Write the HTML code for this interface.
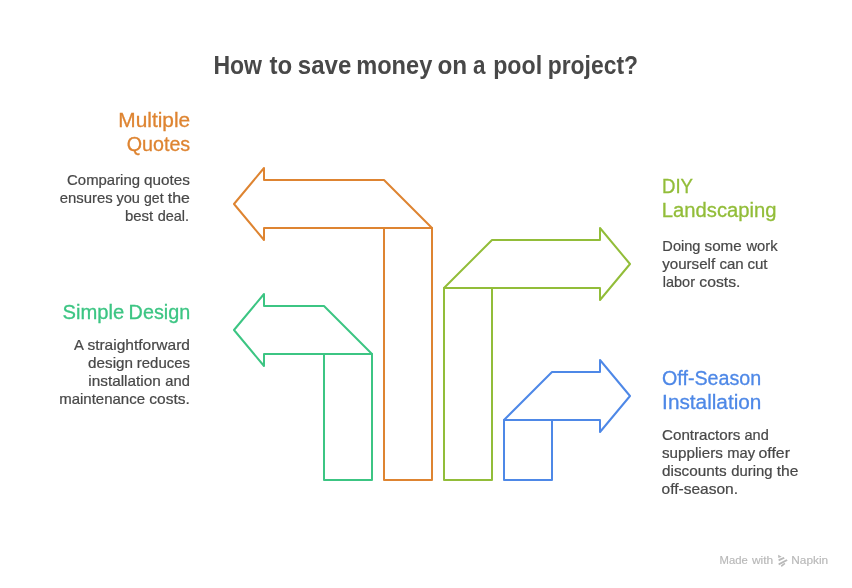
<!DOCTYPE html>
<html lang="en"><head><meta charset="utf-8"><title>How to save money on a pool project?</title>
<style>
html,body{margin:0;padding:0;background:#fff;}
body{width:852px;height:588px;overflow:hidden;}
svg{display:block;will-change:transform;}
text{font-family:"Liberation Sans",Arial,Helvetica,sans-serif;}
.s{fill:none;stroke-width:2;stroke-linejoin:round;stroke-linecap:round;}
</style></head><body>
<svg width="852" height="588" viewBox="0 0 852 588">
<rect width="852" height="588" fill="#ffffff"/>

<g class="s" stroke="#de8431">
<path d="M264 180 L384 180 L432 228 L264 228 L264 240 L234 204 L264 168 Z"/>
<path d="M384 228 L384 480 L432 480 L432 228"/>
</g>
<g class="s" stroke="#3cc583">
<path d="M264 306 L324 306 L372 354 L264 354 L264 366 L234 330 L264 294 Z"/>
<path d="M324 354 L324 480 L372 480 L372 354"/>
</g>
<g class="s" stroke="#92bd39">
<path d="M444 288 L492 240 L600 240 L600 228 L630 264 L600 300 L600 288 Z"/>
<path d="M444 288 L444 480 L492 480 L492 288"/>
</g>
<g class="s" stroke="#4e88e7">
<path d="M504 420 L552 372 L600 372 L600 360 L630 396 L600 432 L600 420 Z"/>
<path d="M504 420 L504 480 L552 480 L552 420"/>
</g>
<text y="74.30" font-size="25.0" font-weight="bold" fill="#484848"><tspan x="213.43" textLength="48.62" lengthAdjust="spacingAndGlyphs">How</tspan> <tspan x="269.62" textLength="22.68" lengthAdjust="spacingAndGlyphs">to</tspan> <tspan x="297.80" textLength="53.45" lengthAdjust="spacingAndGlyphs">save</tspan> <tspan x="356.16" textLength="76.14" lengthAdjust="spacingAndGlyphs">money</tspan> <tspan x="437.50" textLength="29.69" lengthAdjust="spacingAndGlyphs">on</tspan> <tspan x="472.90" textLength="12.49" lengthAdjust="spacingAndGlyphs">a</tspan> <tspan x="493.22" textLength="48.89" lengthAdjust="spacingAndGlyphs">pool</tspan> <tspan x="547.73" textLength="90.27" lengthAdjust="spacingAndGlyphs">project?</tspan></text>
<text x="118.31" y="126.60" font-size="20.0" font-weight="normal" fill="#de8431" stroke="#de8431" stroke-width="0.3" textLength="71.89" lengthAdjust="spacingAndGlyphs">Multiple</text>
<text x="126.70" y="150.50" font-size="20.0" font-weight="normal" fill="#de8431" stroke="#de8431" stroke-width="0.3" textLength="63.50" lengthAdjust="spacingAndGlyphs">Quotes</text>
<text y="184.70" font-size="15.0" font-weight="normal" fill="#484848" stroke="#484848" stroke-width="0.22"><tspan x="67.10" textLength="72.90" lengthAdjust="spacingAndGlyphs">Comparing</tspan> <tspan x="144.00" textLength="45.90" lengthAdjust="spacingAndGlyphs">quotes</tspan></text>
<text y="202.60" font-size="15.0" font-weight="normal" fill="#484848" stroke="#484848" stroke-width="0.22"><tspan x="59.70" textLength="53.00" lengthAdjust="spacingAndGlyphs">ensures</tspan> <tspan x="116.43" textLength="23.47" lengthAdjust="spacingAndGlyphs">you</tspan> <tspan x="144.00" textLength="19.57" lengthAdjust="spacingAndGlyphs">get</tspan> <tspan x="167.80" textLength="22.10" lengthAdjust="spacingAndGlyphs">the</tspan></text>
<text y="220.70" font-size="15.0" font-weight="normal" fill="#484848" stroke="#484848" stroke-width="0.22"><tspan x="125.00" textLength="28.23" lengthAdjust="spacingAndGlyphs">best</tspan> <tspan x="157.70" textLength="31.35" lengthAdjust="spacingAndGlyphs">deal.</tspan></text>
<text y="318.50" font-size="20.0" font-weight="normal" fill="#3cc583" stroke="#3cc583" stroke-width="0.3"><tspan x="62.50" textLength="61.70" lengthAdjust="spacingAndGlyphs">Simple</tspan> <tspan x="128.61" textLength="61.59" lengthAdjust="spacingAndGlyphs">Design</tspan></text>
<text y="350.30" font-size="15.0" font-weight="normal" fill="#484848" stroke="#484848" stroke-width="0.22"><tspan x="73.95" textLength="9.06" lengthAdjust="spacingAndGlyphs">A</tspan> <tspan x="87.40" textLength="102.60" lengthAdjust="spacingAndGlyphs">straightforward</tspan></text>
<text y="368.30" font-size="15.0" font-weight="normal" fill="#484848" stroke="#484848" stroke-width="0.22"><tspan x="88.10" textLength="44.90" lengthAdjust="spacingAndGlyphs">design</tspan> <tspan x="136.85" textLength="53.15" lengthAdjust="spacingAndGlyphs">reduces</tspan></text>
<text y="386.30" font-size="15.0" font-weight="normal" fill="#484848" stroke="#484848" stroke-width="0.22"><tspan x="88.30" textLength="72.50" lengthAdjust="spacingAndGlyphs">installation</tspan> <tspan x="165.30" textLength="24.50" lengthAdjust="spacingAndGlyphs">and</tspan></text>
<text y="404.20" font-size="15.0" font-weight="normal" fill="#484848" stroke="#484848" stroke-width="0.22"><tspan x="59.20" textLength="85.80" lengthAdjust="spacingAndGlyphs">maintenance</tspan> <tspan x="149.30" textLength="40.54" lengthAdjust="spacingAndGlyphs">costs.</tspan></text>
<text x="661.95" y="192.60" font-size="20.0" font-weight="normal" fill="#92bd39" stroke="#92bd39" stroke-width="0.3" textLength="31.05" lengthAdjust="spacingAndGlyphs">DIY</text>
<text x="661.86" y="216.50" font-size="20.0" font-weight="normal" fill="#92bd39" stroke="#92bd39" stroke-width="0.3" textLength="114.64" lengthAdjust="spacingAndGlyphs">Landscaping</text>
<text y="251.10" font-size="15.0" font-weight="normal" fill="#484848" stroke="#484848" stroke-width="0.22"><tspan x="662.35" textLength="38.15" lengthAdjust="spacingAndGlyphs">Doing</tspan> <tspan x="704.60" textLength="37.10" lengthAdjust="spacingAndGlyphs">some</tspan> <tspan x="746.46" textLength="31.12" lengthAdjust="spacingAndGlyphs">work</tspan></text>
<text y="268.90" font-size="15.0" font-weight="normal" fill="#484848" stroke="#484848" stroke-width="0.22"><tspan x="662.20" textLength="52.92" lengthAdjust="spacingAndGlyphs">yourself</tspan> <tspan x="719.40" textLength="24.20" lengthAdjust="spacingAndGlyphs">can</tspan> <tspan x="747.40" textLength="20.19" lengthAdjust="spacingAndGlyphs">cut</tspan></text>
<text y="286.80" font-size="15.0" font-weight="normal" fill="#484848" stroke="#484848" stroke-width="0.22"><tspan x="662.80" textLength="32.20" lengthAdjust="spacingAndGlyphs">labor</tspan> <tspan x="699.30" textLength="41.11" lengthAdjust="spacingAndGlyphs">costs.</tspan></text>
<text x="662.00" y="384.60" font-size="20.0" font-weight="normal" fill="#4e88e7" stroke="#4e88e7" stroke-width="0.3" textLength="99.20" lengthAdjust="spacingAndGlyphs">Off-Season</text>
<text x="662.14" y="408.60" font-size="20.0" font-weight="normal" fill="#4e88e7" stroke="#4e88e7" stroke-width="0.3" textLength="99.29" lengthAdjust="spacingAndGlyphs">Installation</text>
<text y="439.70" font-size="15.0" font-weight="normal" fill="#484848" stroke="#484848" stroke-width="0.22"><tspan x="662.00" textLength="78.40" lengthAdjust="spacingAndGlyphs">Contractors</tspan> <tspan x="744.50" textLength="24.20" lengthAdjust="spacingAndGlyphs">and</tspan></text>
<text y="457.80" font-size="15.0" font-weight="normal" fill="#484848" stroke="#484848" stroke-width="0.22"><tspan x="662.00" textLength="60.80" lengthAdjust="spacingAndGlyphs">suppliers</tspan> <tspan x="727.19" textLength="27.85" lengthAdjust="spacingAndGlyphs">may</tspan> <tspan x="758.50" textLength="31.49" lengthAdjust="spacingAndGlyphs">offer</tspan></text>
<text y="475.80" font-size="15.0" font-weight="normal" fill="#484848" stroke="#484848" stroke-width="0.22"><tspan x="662.00" textLength="64.60" lengthAdjust="spacingAndGlyphs">discounts</tspan> <tspan x="731.30" textLength="41.30" lengthAdjust="spacingAndGlyphs">during</tspan> <tspan x="776.70" textLength="21.70" lengthAdjust="spacingAndGlyphs">the</tspan></text>
<text x="661.50" y="493.90" font-size="15.0" font-weight="normal" fill="#484848" stroke="#484848" stroke-width="0.22" textLength="76.46" lengthAdjust="spacingAndGlyphs">off-season.</text>
<text y="563.70" font-size="10.1" font-weight="normal" fill="#b9b9b9" stroke="#b9b9b9" stroke-width="0.15"><tspan x="719.50" textLength="28.21" lengthAdjust="spacingAndGlyphs">Made</tspan> <tspan x="751.90" textLength="21.31" lengthAdjust="spacingAndGlyphs">with</tspan></text>
<text x="791.30" y="563.70" font-size="10.1" font-weight="normal" fill="#b9b9b9" stroke="#b9b9b9" stroke-width="0.15" textLength="36.90" lengthAdjust="spacingAndGlyphs">Napkin</text>
<g fill="#b9b9b9" stroke="none">
<path d="M778.1 554.8 L781.7 556.7 L778.3 558.0 Z"/>
<path d="M778.4 559.3 L783.7 556.9 L784.7 558.6 L778.9 561.3 Z"/>
<path d="M778.3 563.6 L786.6 559.2 L787.6 560.7 L779.0 565.3 Z"/>
<path d="M780.8 565.5 L784.4 562.7 L785.4 563.9 L781.6 566.9 Z"/>
</g>
</svg>
</body></html>
